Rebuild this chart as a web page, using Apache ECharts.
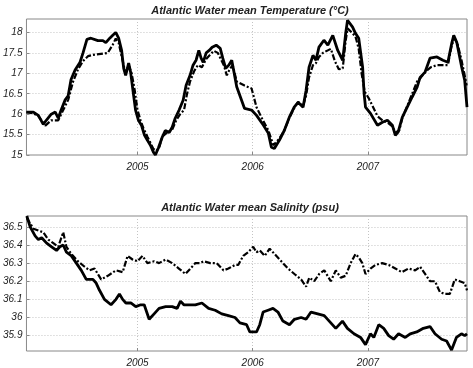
<!DOCTYPE html>
<html>
<head>
<meta charset="utf-8">
<script src="https://cdn.jsdelivr.net/npm/echarts@6/dist/echarts.min.js"></script>
<style>
  html, body { margin: 0; padding: 0; background: #fff; }
  #main { width: 473px; height: 368px; }
</style>
</head>
<body>
<div id="main"></div>
<script>
// time in decimal years
var yearTicks = [2005, 2006, 2007];
var tempTicks = [15, 15.5, 16, 16.5, 17, 17.5, 18];
var salTicks = [35.9, 36, 36.1, 36.2, 36.3, 36.4, 36.5];

var tempSolid = [
  [2004.036, 16.05], [2004.096, 16.05], [2004.139, 15.97], [2004.182, 15.75], [2004.208, 15.85],
  [2004.251, 16.0], [2004.286, 16.05], [2004.312, 15.9], [2004.337, 16.1], [2004.372, 16.35],
  [2004.398, 16.45], [2004.423, 16.85], [2004.458, 17.08], [2004.501, 17.27], [2004.527, 17.5],
  [2004.561, 17.83], [2004.596, 17.86], [2004.656, 17.8], [2004.699, 17.8], [2004.725, 17.75],
  [2004.759, 17.86], [2004.785, 17.93], [2004.811, 18.0], [2004.836, 17.86], [2004.862, 17.56],
  [2004.880, 17.12], [2004.897, 16.95], [2004.923, 17.25], [2004.940, 17.03], [2004.966, 16.46],
  [2004.983, 16.1], [2005.008, 15.85], [2005.034, 15.73], [2005.060, 15.49], [2005.086, 15.36],
  [2005.112, 15.24], [2005.138, 15.07], [2005.155, 15.0], [2005.181, 15.17], [2005.215, 15.44],
  [2005.241, 15.6], [2005.275, 15.55], [2005.301, 15.68], [2005.327, 15.9], [2005.361, 16.1],
  [2005.396, 16.34], [2005.422, 16.71], [2005.456, 16.95], [2005.482, 17.2], [2005.508, 17.32],
  [2005.532, 17.56], [2005.552, 17.37], [2005.570, 17.27], [2005.596, 17.5], [2005.622, 17.56],
  [2005.648, 17.64], [2005.683, 17.69], [2005.718, 17.61], [2005.740, 17.37], [2005.766, 17.12],
  [2005.792, 17.2], [2005.818, 17.32], [2005.861, 16.67], [2005.929, 16.14], [2005.990, 16.1],
  [2006.033, 15.97], [2006.093, 15.73], [2006.136, 15.53], [2006.162, 15.19], [2006.188, 15.16],
  [2006.231, 15.36], [2006.274, 15.6], [2006.317, 15.92], [2006.360, 16.17], [2006.394, 16.29],
  [2006.437, 16.17], [2006.463, 16.58], [2006.489, 17.15], [2006.523, 17.44], [2006.549, 17.32],
  [2006.575, 17.64], [2006.618, 17.81], [2006.652, 17.69], [2006.695, 17.93], [2006.738, 17.56],
  [2006.781, 17.32], [2006.807, 17.98], [2006.823, 18.3], [2006.867, 18.13], [2006.892, 17.98],
  [2006.920, 17.86], [2006.954, 17.15], [2006.967, 16.5], [2006.979, 16.17], [2007.022, 16.02],
  [2007.083, 15.73], [2007.126, 15.8], [2007.169, 15.85], [2007.212, 15.73], [2007.238, 15.48],
  [2007.262, 15.56], [2007.298, 15.92], [2007.341, 16.17], [2007.384, 16.42], [2007.427, 16.66],
  [2007.453, 16.9], [2007.496, 17.03], [2007.539, 17.37], [2007.599, 17.4], [2007.651, 17.32],
  [2007.694, 17.27], [2007.728, 17.74], [2007.745, 17.93], [2007.771, 17.76], [2007.814, 17.15],
  [2007.840, 16.83], [2007.860, 16.17]
];

var tempDash = [
  [2004.036, 16.05], [2004.096, 16.02], [2004.139, 15.95], [2004.200, 15.72], [2004.251, 15.85],
  [2004.312, 15.85], [2004.355, 16.1], [2004.398, 16.35], [2004.441, 16.8], [2004.484, 17.1],
  [2004.527, 17.3], [2004.570, 17.42], [2004.613, 17.45], [2004.699, 17.48], [2004.742, 17.5],
  [2004.785, 17.7], [2004.811, 17.85], [2004.836, 17.75], [2004.871, 17.3], [2004.897, 17.0],
  [2004.923, 17.2], [2004.949, 17.0], [2004.975, 16.6], [2005.000, 16.1], [2005.026, 15.85],
  [2005.052, 15.65], [2005.086, 15.45], [2005.112, 15.3], [2005.138, 15.15], [2005.164, 15.1],
  [2005.190, 15.2], [2005.215, 15.45], [2005.258, 15.55], [2005.301, 15.62], [2005.336, 15.85],
  [2005.370, 16.0], [2005.404, 16.1], [2005.430, 16.5], [2005.456, 16.8], [2005.491, 17.05],
  [2005.524, 17.2], [2005.559, 17.15], [2005.596, 17.35], [2005.628, 17.45], [2005.663, 17.55],
  [2005.697, 17.5], [2005.723, 17.35], [2005.749, 17.2], [2005.775, 16.95], [2005.800, 17.1],
  [2005.826, 17.2], [2005.861, 16.8], [2005.929, 16.7], [2005.990, 16.63], [2006.033, 16.17],
  [2006.076, 15.92], [2006.136, 15.6], [2006.179, 15.24], [2006.231, 15.4], [2006.274, 15.6],
  [2006.317, 15.9], [2006.360, 16.15], [2006.394, 16.3], [2006.437, 16.2], [2006.463, 16.45],
  [2006.489, 16.9], [2006.523, 17.2], [2006.549, 17.25], [2006.575, 17.4], [2006.609, 17.5],
  [2006.644, 17.55], [2006.678, 17.6], [2006.713, 17.3], [2006.747, 17.1], [2006.781, 17.12],
  [2006.807, 17.8], [2006.823, 18.1], [2006.859, 18.0], [2006.892, 17.9], [2006.920, 17.6],
  [2006.945, 17.0], [2006.972, 16.55], [2007.005, 16.4], [2007.040, 16.2], [2007.083, 15.95],
  [2007.126, 15.85], [2007.169, 15.8], [2007.212, 15.7], [2007.238, 15.55], [2007.272, 15.6],
  [2007.298, 15.9], [2007.341, 16.2], [2007.384, 16.5], [2007.427, 16.8], [2007.460, 16.9],
  [2007.504, 17.05], [2007.547, 17.15], [2007.599, 17.2], [2007.651, 17.2], [2007.694, 17.2],
  [2007.728, 17.7], [2007.754, 17.85], [2007.780, 17.7], [2007.814, 17.3], [2007.840, 16.95],
  [2007.857, 16.7]
];

var salSolid = [
  [2004.039, 36.56], [2004.068, 36.50], [2004.111, 36.45], [2004.139, 36.43], [2004.168, 36.44],
  [2004.211, 36.41], [2004.254, 36.39], [2004.297, 36.37], [2004.326, 36.39], [2004.355, 36.40],
  [2004.383, 36.36], [2004.426, 36.34], [2004.469, 36.30], [2004.512, 36.26], [2004.555, 36.21],
  [2004.613, 36.21], [2004.641, 36.19], [2004.670, 36.15], [2004.713, 36.10], [2004.770, 36.07],
  [2004.813, 36.10], [2004.843, 36.13], [2004.871, 36.10], [2004.899, 36.08], [2004.942, 36.08],
  [2004.985, 36.06], [2005.028, 36.07], [2005.058, 36.07], [2005.101, 35.99], [2005.144, 36.02],
  [2005.187, 36.05], [2005.244, 36.06], [2005.301, 36.06], [2005.344, 36.05], [2005.373, 36.09],
  [2005.402, 36.07], [2005.459, 36.07], [2005.502, 36.07], [2005.559, 36.08], [2005.617, 36.05],
  [2005.674, 36.04], [2005.731, 36.02], [2005.789, 36.01], [2005.846, 36.00], [2005.889, 35.97],
  [2005.904, 35.97], [2005.947, 35.96], [2005.975, 35.92], [2006.033, 35.92], [2006.061, 35.96],
  [2006.090, 36.03], [2006.133, 36.04], [2006.176, 36.05], [2006.219, 36.03], [2006.262, 35.98],
  [2006.319, 35.96], [2006.362, 35.99], [2006.420, 36.00], [2006.463, 35.99], [2006.506, 36.03],
  [2006.564, 36.02], [2006.621, 36.01], [2006.664, 35.98], [2006.721, 35.94], [2006.779, 35.98],
  [2006.822, 35.94], [2006.879, 35.91], [2006.936, 35.89], [2006.979, 35.85], [2007.022, 35.91],
  [2007.051, 35.89], [2007.094, 35.96], [2007.137, 35.94], [2007.180, 35.90], [2007.223, 35.88],
  [2007.266, 35.91], [2007.324, 35.89], [2007.367, 35.91], [2007.424, 35.92], [2007.481, 35.94],
  [2007.539, 35.95], [2007.582, 35.91], [2007.640, 35.88], [2007.683, 35.87], [2007.726, 35.82],
  [2007.768, 35.89], [2007.812, 35.91], [2007.840, 35.90], [2007.860, 35.91]
];

var salDash = [
  [2004.039, 36.55], [2004.096, 36.49], [2004.139, 36.48], [2004.182, 36.47], [2004.225, 36.43],
  [2004.269, 36.41], [2004.312, 36.39], [2004.355, 36.47], [2004.383, 36.39], [2004.426, 36.35],
  [2004.484, 36.31], [2004.541, 36.28], [2004.584, 36.26], [2004.627, 36.27], [2004.684, 36.21],
  [2004.742, 36.23], [2004.813, 36.26], [2004.871, 36.25], [2004.914, 36.34], [2004.957, 36.32],
  [2005.000, 36.31], [2005.043, 36.34], [2005.086, 36.30], [2005.144, 36.31], [2005.187, 36.30],
  [2005.244, 36.32], [2005.301, 36.30], [2005.359, 36.27], [2005.416, 36.24], [2005.459, 36.27],
  [2005.502, 36.30], [2005.545, 36.30], [2005.574, 36.31], [2005.631, 36.30], [2005.688, 36.30],
  [2005.746, 36.26], [2005.789, 36.27], [2005.846, 36.29], [2005.874, 36.29], [2005.918, 36.34],
  [2005.961, 36.36], [2006.004, 36.39], [2006.033, 36.36], [2006.061, 36.37], [2006.104, 36.34],
  [2006.147, 36.38], [2006.190, 36.35], [2006.248, 36.31], [2006.306, 36.27], [2006.362, 36.24],
  [2006.420, 36.21], [2006.463, 36.17], [2006.491, 36.22], [2006.534, 36.20], [2006.577, 36.24],
  [2006.621, 36.26], [2006.678, 36.20], [2006.721, 36.26], [2006.764, 36.22], [2006.807, 36.23],
  [2006.850, 36.30], [2006.892, 36.35], [2006.922, 36.33], [2006.951, 36.30], [2006.979, 36.24],
  [2007.022, 36.27], [2007.066, 36.29], [2007.123, 36.30], [2007.180, 36.29], [2007.238, 36.27],
  [2007.295, 36.25], [2007.352, 36.27], [2007.410, 36.26], [2007.453, 36.28], [2007.496, 36.24],
  [2007.539, 36.20], [2007.582, 36.20], [2007.625, 36.14], [2007.668, 36.13], [2007.711, 36.13],
  [2007.754, 36.21], [2007.797, 36.20], [2007.840, 36.19], [2007.860, 36.15]
];

var labelStyle = { color: '#222', fontSize: 10, fontStyle: 'italic', fontFamily: 'Liberation Sans' };
var titleStyle = { fontSize: 11, fontWeight: 'bold', fontStyle: 'italic', color: '#222', fontFamily: 'Liberation Sans' };
var gridLine = { show: true, lineStyle: { color: '#c4c4c4', type: [1, 2], width: 1 } };

function xAxis(gridIndex) {
  return {
    type: 'value', gridIndex: gridIndex, min: 2004.036, max: 2007.86,
    axisLine: { show: false },
    axisTick: { show: true, inside: true, length: 3, customValues: yearTicks, lineStyle: { color: '#888' } },
    axisLabel: Object.assign({ customValues: yearTicks, margin: 7, formatter: function (v) { return String(Math.round(v)); } }, labelStyle),
    splitLine: gridLine
  };
}

var myChart = echarts.init(document.getElementById('main'));
var option = {
  animation: false,
  backgroundColor: '#fff',
  title: [
    { text: 'Atlantic Water mean Temperature (°C)', left: 245, top: 0, textAlign: 'center', textStyle: titleStyle },
    { text: 'Atlantic Water mean Salinity (psu)', left: 245, top: 197, textAlign: 'center', textStyle: titleStyle }
  ],
  grid: [
    { left: 23, right: 6, top: 19, height: 136, show: true, borderColor: '#888', borderWidth: 1 },
    { left: 23, right: 6, top: 216, height: 137, show: true, borderColor: '#888', borderWidth: 1 }
  ],
  xAxis: [xAxis(0), xAxis(1)],
  yAxis: [
    {
      type: 'value', gridIndex: 0, min: 15, max: 18.33,
      axisLine: { show: false },
      axisTick: { show: true, inside: true, length: 3, customValues: tempTicks, lineStyle: { color: '#888' } },
      axisLabel: Object.assign({ customValues: tempTicks, margin: 4 }, labelStyle),
      splitLine: gridLine
    },
    {
      type: 'value', gridIndex: 1, min: 35.815, max: 36.56,
      axisLine: { show: false },
      axisTick: { show: true, inside: true, length: 3, customValues: salTicks, lineStyle: { color: '#888' } },
      axisLabel: Object.assign({ customValues: salTicks, margin: 4 }, labelStyle),
      splitLine: gridLine
    }
  ],
  series: [
    { type: 'line', xAxisIndex: 0, yAxisIndex: 0, data: tempDash, showSymbol: false,
      lineStyle: { color: '#000', width: 2.2, type: [6, 2, 2, 2] } },
    { type: 'line', xAxisIndex: 0, yAxisIndex: 0, data: tempSolid, showSymbol: false,
      lineStyle: { color: '#000', width: 2.8 } },
    { type: 'line', xAxisIndex: 1, yAxisIndex: 1, data: salDash, showSymbol: false,
      lineStyle: { color: '#000', width: 2.2, type: [6, 2, 2, 2] } },
    { type: 'line', xAxisIndex: 1, yAxisIndex: 1, data: salSolid, showSymbol: false,
      lineStyle: { color: '#000', width: 2.8 } }
  ]
};
myChart.setOption(option);
</script>
</body>
</html>
